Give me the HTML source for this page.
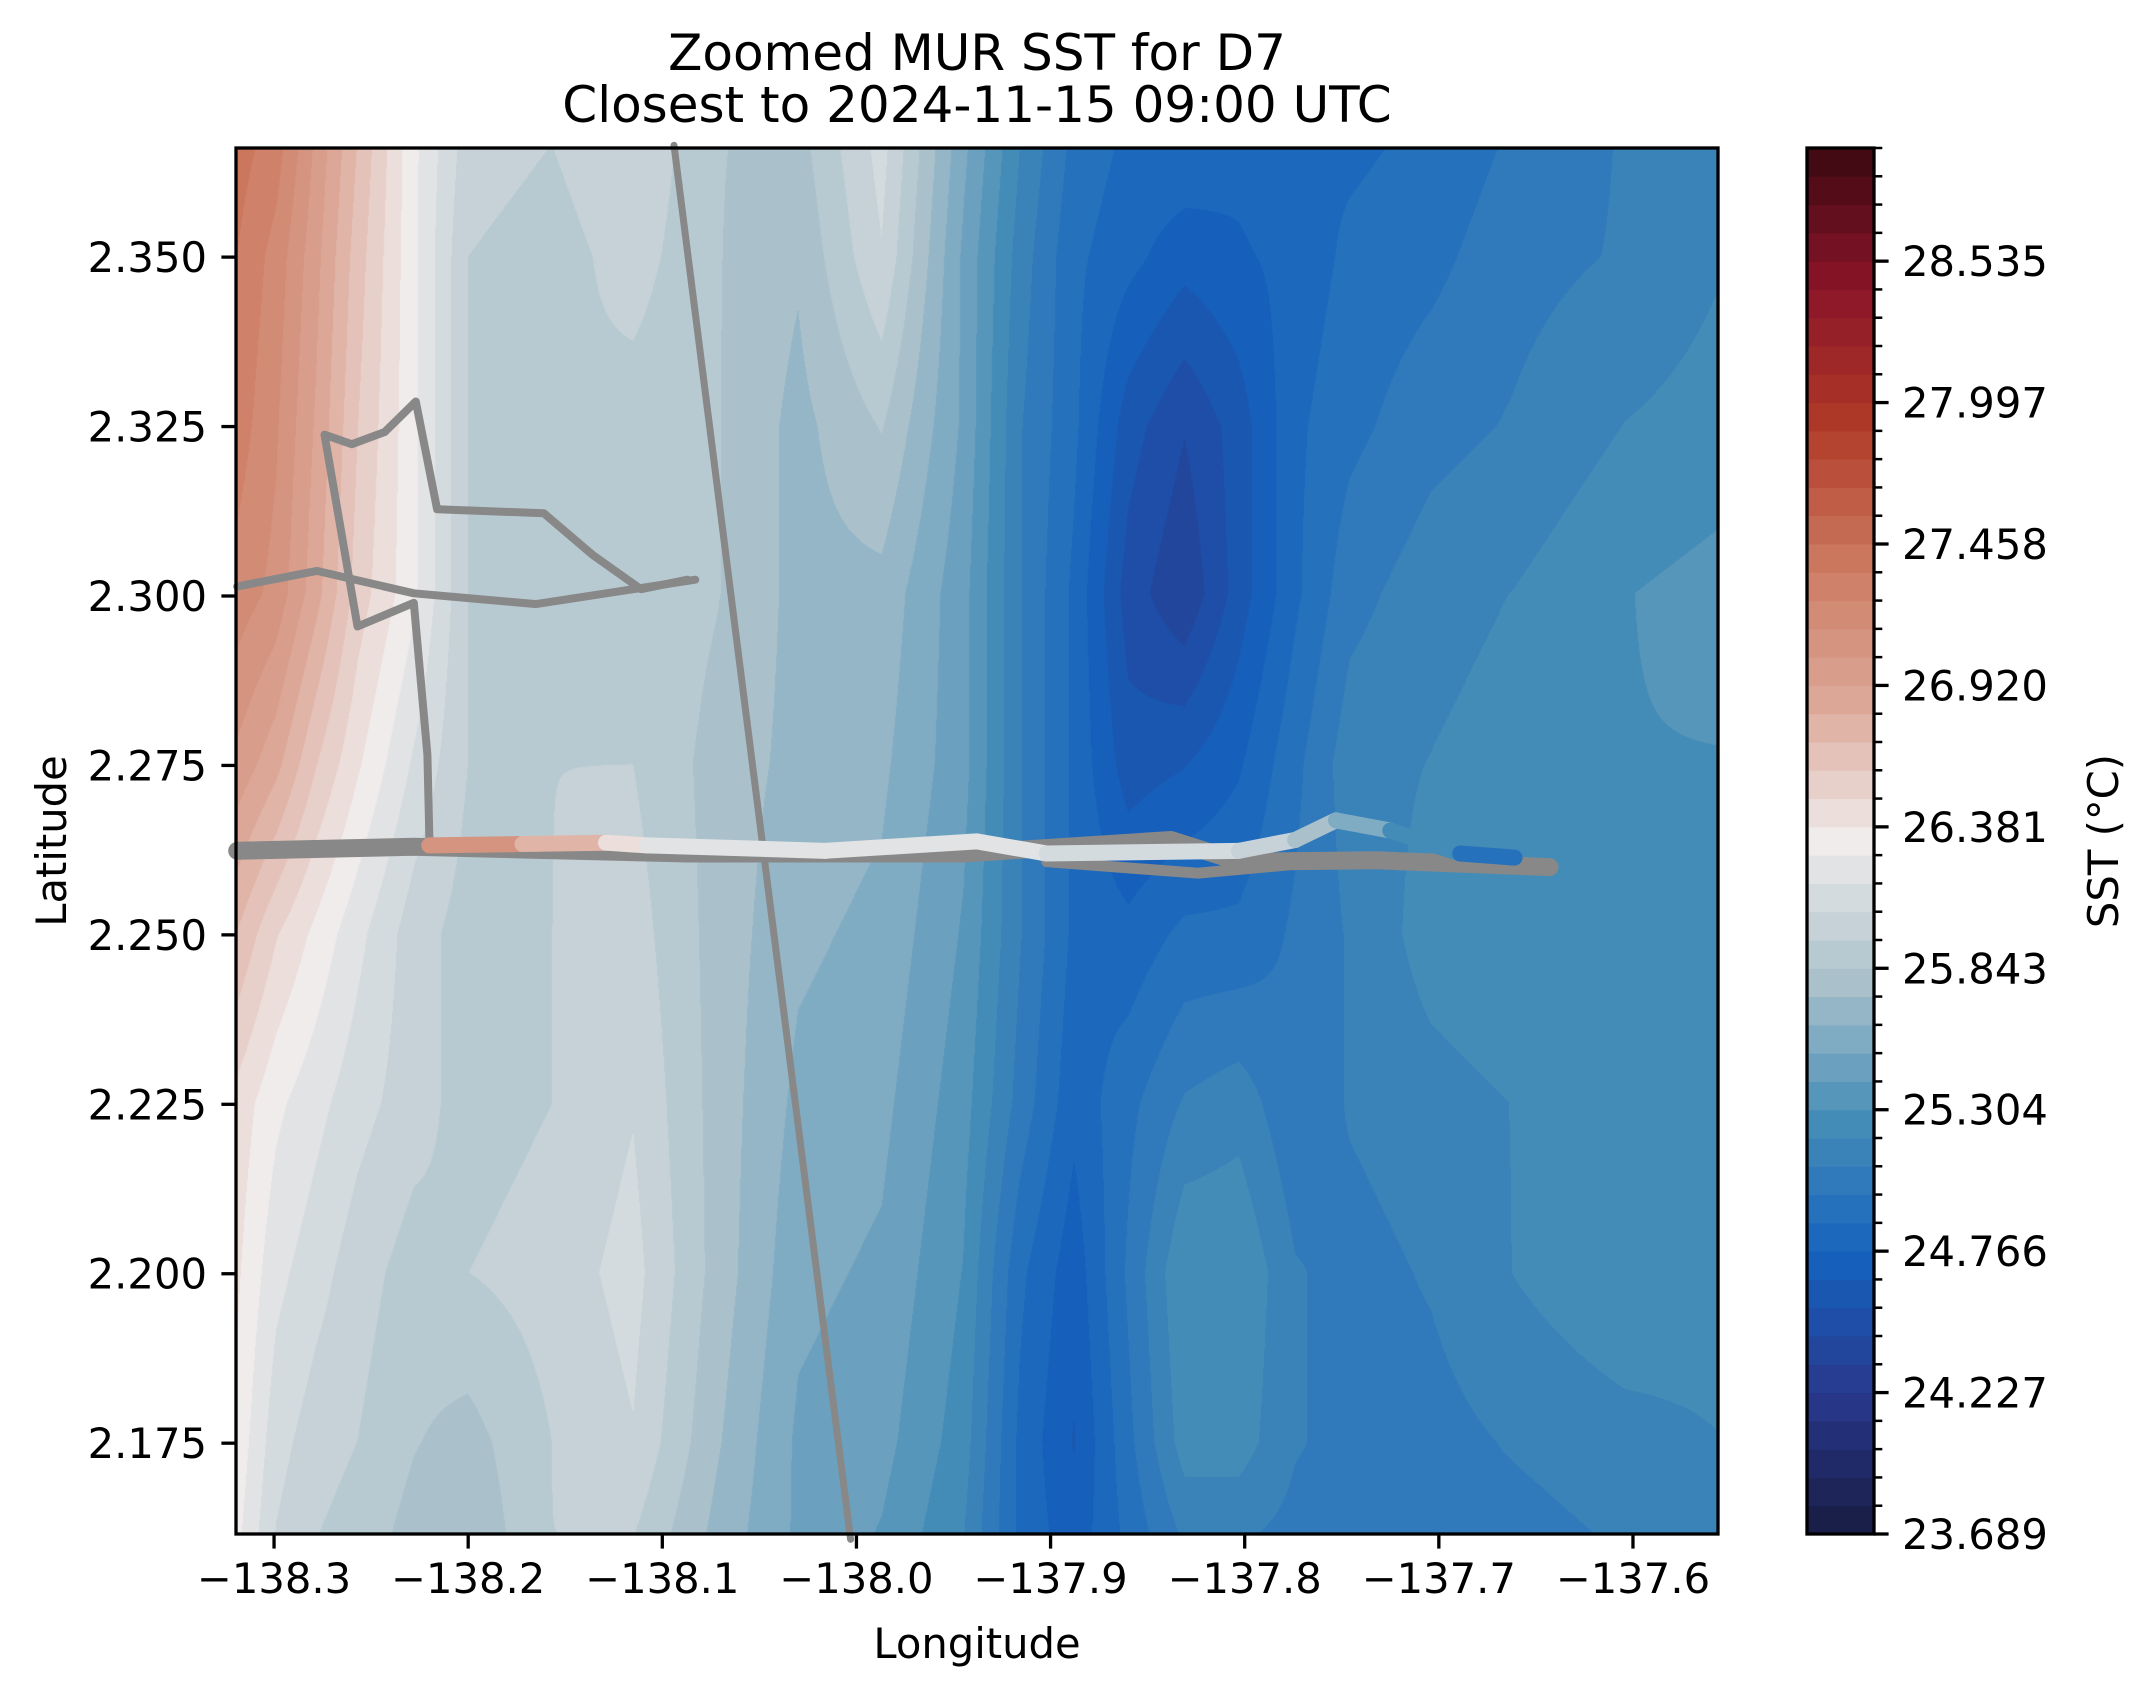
<!DOCTYPE html>
<html><head><meta charset="utf-8">
<style>
html,body{margin:0;padding:0;background:#fff;}
#wrap{position:relative;width:2146px;height:1690px;overflow:hidden;font-family:"DejaVu Sans","Liberation Sans",sans-serif;}
#field{position:absolute;left:236px;top:148px;}
#ov{position:absolute;left:0;top:0;}
</style></head>
<body>
<div id="wrap">
<canvas id="field" width="1482" height="1386"></canvas>
<svg id="ov" width="2146" height="1690" xmlns="http://www.w3.org/2000/svg">
<g id="tracks"></g>
<g id="axes"></g>
<g id="cbar"></g>
<text x="977" y="70" text-anchor="middle" font-size="50">Zoomed MUR SST for D7</text>
<text x="977" y="122" text-anchor="middle" font-size="50">Closest to 2024-11-15 09:00 UTC</text>
<text x="977" y="1658" text-anchor="middle" font-size="41.7">Longitude</text>
<text transform="translate(66,841) rotate(-90)" text-anchor="middle" font-size="41.7">Latitude</text>
<text transform="translate(2118,841) rotate(-90)" text-anchor="middle" font-size="41.7">SST (°C)</text>
</svg>
</div>
<script>
// ---- data ----
const gridLons = [-138.319,-138.299,-138.278,-138.257,-138.228,-138.2,-138.157,-138.115,-138.072,-138.030,-137.987,-137.945,-137.916,-137.888,-137.860,-137.831,-137.803,-137.774,-137.746,-137.704,-137.661,-137.604,-137.548];
const gridLats = [2.3665,2.35,2.325,2.3004,2.2754,2.2502,2.2252,2.2002,2.1752,2.1608];
const sstRows = [
[27.4,27.3,27.0,26.7,26.3,26.0,25.95,26.05,25.85,25.8,26.1,25.55,25.2,24.95,24.85,24.85,24.8,24.85,24.85,24.9,25.0,25.1,25.15],
[27.35,27.2,26.95,26.65,26.3,25.95,25.9,26.0,25.85,25.75,26.05,25.5,25.15,24.9,24.8,24.7,24.75,24.8,24.9,24.95,25.05,25.1,25.2],
[27.3,27.15,26.9,26.6,26.3,25.95,25.95,25.9,25.85,25.7,25.85,25.5,25.1,24.9,24.6,24.45,24.6,24.85,24.95,25.05,25.1,25.2,25.25],
[27.2,27.1,26.85,26.55,26.3,25.95,25.95,25.95,25.85,25.7,25.7,25.45,25.1,24.85,24.5,24.35,24.6,24.85,25.05,25.15,25.2,25.3,25.35],
[27.0,26.85,26.6,26.4,26.15,25.95,25.95,25.95,25.8,25.7,25.65,25.45,25.1,24.85,24.6,24.65,24.75,24.95,25.15,25.2,25.25,25.3,25.3],
[26.7,26.5,26.35,26.2,26.0,25.9,25.95,26.0,25.8,25.65,25.6,25.4,25.1,24.85,24.8,24.9,24.9,25.0,25.1,25.25,25.3,25.3,25.25],
[26.45,26.3,26.2,26.1,26.0,25.9,25.95,26.05,25.8,25.6,25.55,25.35,25.05,24.8,24.95,25.1,25.15,25.0,25.1,25.15,25.2,25.2,25.2],
[26.4,26.2,26.1,26.0,25.9,25.95,26.0,26.1,25.8,25.55,25.5,25.3,24.9,24.7,25.0,25.3,25.3,25.1,25.05,25.1,25.2,25.3,25.25],
[26.35,26.1,26.0,25.95,25.85,25.8,25.95,26.05,25.75,25.5,25.45,25.25,24.85,24.65,24.95,25.25,25.25,25.1,25.05,25.05,25.1,25.15,25.2],
[26.3,26.05,25.95,25.9,25.8,25.75,25.95,25.95,25.7,25.5,25.4,25.2,24.85,24.7,24.9,25.1,25.1,25.05,25.05,25.05,25.05,25.1,25.15]
];
const xTicks = [-138.3,-138.2,-138.1,-138.0,-137.9,-137.8,-137.7,-137.6];
const yTicks = [2.175,2.2,2.225,2.25,2.275,2.3,2.325,2.35];
const cbarMin = 23.689, cbarStep = 0.10769, cbarBands = 49;
const cbarMajorLabels = ["23.689","24.227","24.766","25.304","25.843","26.381","26.920","27.458","27.997","28.535"];
const shipLon = [-138.094,-138.003];
const shipLat = [2.3665,2.1608];
const pathALon = [-138.319,-138.278,-138.228,-138.165,-138.115,-138.083];
const pathALat = [2.3014,2.3037,2.3004,2.2988,2.3010,2.3024];
const pathBLon = [-138.220,-138.221,-138.228,-138.257,-138.274,-138.260,-138.243,-138.227,-138.216,-138.161,-138.136,-138.111,-138.087];
const pathBLat = [2.2640,2.2766,2.2990,2.2955,2.3238,2.3224,2.3242,2.3287,2.3128,2.3122,2.3061,2.3010,2.3024];
const pathCLon = [-138.319,-138.228,-138.087,-137.945,-137.838,-137.803,-137.732,-137.643];
const pathCLat = [2.2624,2.2630,2.2620,2.2620,2.2640,2.2608,2.2610,2.2600];
const pathDLon = [-137.902,-137.824,-137.760,-137.689,-137.643];
const pathDLat = [2.2608,2.2591,2.2608,2.2604,2.2598];
const colLon = [-138.220,-138.172,-138.129,-138.108,-138.016,-137.938,-137.902,-137.803,-137.774,-137.753,-137.725,-137.689,-137.661];
const colLat = [2.2632,2.2634,2.2636,2.2632,2.2624,2.2638,2.2620,2.2624,2.2640,2.2669,2.2654,2.2620,2.2614];
const colSst = [27.2,27.0,26.6,26.3,26.2,26.2,26.2,26.1,25.9,25.7,25.4,25.0,24.9];

// ---- axes ----
const PL=236, PT=148, PW=1482, PH=1386;
const lon0=-138.3196, lon1=-137.5562, lat0=2.1616, lat1=2.3661;
const xOf = lon => PL + (lon-lon0)/(lon1-lon0)*PW;
const yOf = lat => PT + (lat1-lat)/(lat1-lat0)*PH;
const cbTop=148, cbBot=1534, cbL=1807, cbR=1874;
const cbMax = cbarMin + cbarStep*cbarBands;
const cbY = v => cbBot - (v-cbarMin)/(cbMax-cbarMin)*(cbBot-cbTop);

const stops = [[0,[24,28,67]],[0.1,[40,56,140]],[0.2,[21,98,190]],[0.3,[70,142,184]],[0.4,[172,194,203]],[0.5,[240,236,236]],[0.6,[220,168,152]],[0.7,[204,122,96]],[0.8,[176,58,40]],[0.9,[138,20,40]],[1,[60,9,18]]];
function cmap(t){t=Math.max(0,Math.min(1,t));for(let i=1;i<stops.length;i++){if(t<=stops[i][0]){const a=stops[i-1],b=stops[i];const f=(t-a[0])/(b[0]-a[0]);return a[1].map((c,k)=>Math.round(c+(b[1][k]-c)*f));}}return stops[stops.length-1][1];}
function bandColor(i){return cmap((i+0.5)/cbarBands);}
function valColor(v){let i=Math.floor((v-cbarMin)/cbarStep);i=Math.max(0,Math.min(cbarBands-1,i));return bandColor(i);}
const rgb=c=>`rgb(${c[0]},${c[1]},${c[2]})`;

// ---- field ----
(function(){
 const cv=document.getElementById('field'),ctx=cv.getContext('2d');
 const img=ctx.createImageData(PW,PH);
 function locate(arr,v,desc){let n=arr.length;for(let i=0;i<n-1;i++){const a=arr[i],b=arr[i+1];if(desc?(v<=a&&v>=b):(v>=a&&v<=b))return [i,(v-a)/(b-a)];}
  if(desc) return v>arr[0]?[0,0]:[n-2,1]; return v<arr[0]?[0,0]:[n-2,1];}
 const cx=[];for(let x=0;x<PW;x++){cx.push(locate(gridLons,lon0+(x+0.5)/PW*(lon1-lon0),false));}
 for(let y=0;y<PH;y++){
  const [j,fy]=locate(gridLats,lat1-(y+0.5)/PH*(lat1-lat0),true);
  const r0=sstRows[j],r1=sstRows[j+1];
  for(let x=0;x<PW;x++){
   const [i,fx]=cx[x];
   const v=(r0[i]*(1-fx)+r0[i+1]*fx)*(1-fy)+(r1[i]*(1-fx)+r1[i+1]*fx)*fy;
   const c=valColor(v);const p=(y*PW+x)*4;
   img.data[p]=c[0];img.data[p+1]=c[1];img.data[p+2]=c[2];img.data[p+3]=255;
  }
 }
 ctx.putImageData(img,0,0);
})();

const NS='http://www.w3.org/2000/svg';
function mk(parent,tag,attrs){const e=document.createElementNS(NS,tag);for(const k in attrs)e.setAttribute(k,attrs[k]);parent.appendChild(e);return e;}

// ---- tracks ----
const tg=document.getElementById('tracks');
function poly(lons,lats,w,name){
 const pts=lons.map((l,i)=>xOf(l).toFixed(1)+','+yOf(lats[i]).toFixed(1)).join(' ');
 const e=mk(tg,'polyline',{points:pts,fill:'none',stroke:'#888888','stroke-width':w,'stroke-linejoin':'round','stroke-linecap':'round'});
 
 
}
poly(shipLon,shipLat,7,'ship-track');
poly(pathALon,pathALat,8,'drifter-track-a');
poly(pathBLon,pathBLat,8,'drifter-track-b');
poly(pathCLon,pathCLat,18,'drifter-track-c');
poly(pathDLon,pathDLat,11,'drifter-track-d');
for(let i=0;i<colLon.length-1;i++){
 const c=valColor((colSst[i]+colSst[i+1])/2);
 const e=mk(tg,'line',{x1:xOf(colLon[i]),y1:yOf(colLat[i]),x2:xOf(colLon[i+1]),y2:yOf(colLat[i+1]),stroke:rgb(c),'stroke-width':16,'stroke-linecap':'round'});
 
 
}

// ---- axes ----
const ag=document.getElementById('axes');
const fr=mk(ag,'rect',{x:PL,y:PT,width:PW,height:PH,fill:'none',stroke:'#000','stroke-width':3.3});


xTicks.forEach(t=>{
 const x=xOf(t);
 mk(ag,'line',{x1:x,y1:PT+PH,x2:x,y2:PT+PH+14.6,stroke:'#000','stroke-width':3.3});
 const e=mk(ag,'text',{x:x,y:PT+PH+59,'text-anchor':'middle','font-size':41.7});
 e.textContent=(t<0?'\u2212':'')+Math.abs(t).toFixed(1);
 
 
});
yTicks.forEach(t=>{
 const y=yOf(t);
 mk(ag,'line',{x1:PL-14.6,y1:y,x2:PL,y2:y,stroke:'#000','stroke-width':3.3});
 const e=mk(ag,'text',{x:PL-29,y:y+15,'text-anchor':'end','font-size':41.7});
 e.textContent=t.toFixed(3);
 
 
});

// ---- colorbar ----
const cg=document.getElementById('cbar');
for(let i=0;i<cbarBands;i++){
 const y0=cbY(cbarMin+cbarStep*(i+1)),y1=cbY(cbarMin+cbarStep*i);
 const e=mk(cg,'rect',{x:cbL,y:y0-0.5,width:cbR-cbL,height:y1-y0+1,fill:rgb(bandColor(i))});
 
 
}
mk(cg,'rect',{x:cbL,y:cbTop,width:cbR-cbL,height:cbBot-cbTop,fill:'none',stroke:'#000','stroke-width':3.3});
for(let i=0;i<=cbarBands;i++){
 const v=cbarMin+cbarStep*i;const y=cbY(v);
 const major=i%5===0&&i/5<cbarMajorLabels.length;
 mk(cg,'line',{x1:cbR,y1:y,x2:cbR+(major?14.6:8.3),y2:y,stroke:'#000','stroke-width':major?3.3:2.5});
 if(major){
  const e=mk(cg,'text',{x:cbR+28,y:y+15,'font-size':41.7});
  e.textContent=cbarMajorLabels[i/5];
  
  
 }
}
</script>
</body></html>
